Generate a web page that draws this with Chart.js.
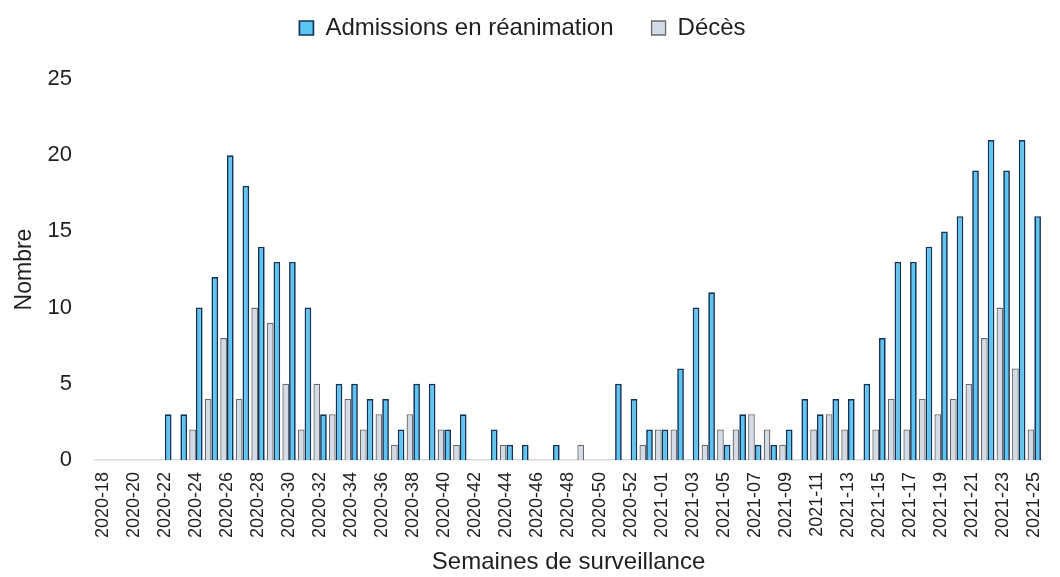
<!DOCTYPE html>
<html>
<head>
<meta charset="utf-8">
<script src="https://cdn.jsdelivr.net/npm/chart.js@4.4.1/dist/chart.umd.min.js"></script>
<style>
    html, body { margin: 0; padding: 0; background: #fff; }
    #wrap { width: 1060px; height: 577px; }
</style>
</head>
<body>
<div id="wrap"><canvas id="chart"></canvas></div>
<script>
// semaines 2020-18 .. 2020-53 puis 2021-01 .. 2021-25
const weeks = [
    '2020-18','2020-19','2020-20','2020-21','2020-22','2020-23','2020-24','2020-25','2020-26','2020-27',
    '2020-28','2020-29','2020-30','2020-31','2020-32','2020-33','2020-34','2020-35','2020-36','2020-37',
    '2020-38','2020-39','2020-40','2020-41','2020-42','2020-43','2020-44','2020-45','2020-46','2020-47',
    '2020-48','2020-49','2020-50','2020-51','2020-52','2020-53',
    '2021-01','2021-02','2021-03','2021-04','2021-05','2021-06','2021-07','2021-08','2021-09','2021-10',
    '2021-11','2021-12','2021-13','2021-14','2021-15','2021-16','2021-17','2021-18','2021-19','2021-20',
    '2021-21','2021-22','2021-23','2021-24','2021-25'
];

const admissions = [
    0, 0, 0, 0, 3, 3, 10, 12, 20, 18,
    14, 13, 13, 10, 3, 5, 5, 4, 4, 2,
    5, 5, 2, 3, 0, 2, 1, 1, 0, 1,
    0, 0, 0, 5, 4, 2,
    2, 6, 10, 11, 1, 3, 1, 1, 2, 4,
    3, 4, 4, 5, 8, 13, 13, 14, 15, 16,
    19, 21, 19, 21, 16
];

const deces = [
    0, 0, 0, 0, 0, 0, 2, 4, 8, 4,
    10, 9, 5, 2, 5, 3, 4, 2, 3, 1,
    3, 0, 2, 1, 0, 0, 1, 0, 0, 0,
    0, 1, 0, 0, 0, 1,
    2, 2, 0, 1, 2, 2, 3, 2, 1, 0,
    2, 3, 2, 0, 2, 4, 2, 4, 3, 4,
    5, 8, 10, 6, 2
];

const yTicks = [0, 5, 10, 15, 20, 25];

const FONT = "'Liberation Sans', Arial, sans-serif";
const TXT = '#1f1f1f';

// les zéros ne sont pas dessinés dans l'original
const noZero = arr => arr.map(v => v === 0 ? null : v);

// espace sous la légende
const legendGap = {
    id: 'legendGap',
    beforeInit(chart) {
        const fit = chart.legend.fit;
        chart.legend.fit = function() { fit.call(this); this.height += 29; };
    }
};

new Chart(document.getElementById('chart'), {
    type: 'bar',
    data: {
        labels: weeks,
        datasets: [
            { label: 'Décès', data: noZero(deces), backgroundColor: '#d3dbe6', borderColor: '#6a6a6a', borderWidth: 1.3, borderSkipped: 'bottom', categoryPercentage: 0.86, barPercentage: 1.0 },
            { label: 'Admissions en réanimation', data: noZero(admissions), backgroundColor: '#5cc6f2', borderColor: '#13325a', borderWidth: 1.7, borderSkipped: 'bottom', categoryPercentage: 0.86, barPercentage: 1.0 }
        ]
    },
    plugins: [legendGap],
    options: {
        responsive: true,
        maintainAspectRatio: false,
        animation: false,
        layout: { padding: { top: -22, right: 15, left: 0, bottom: 0 } },
        plugins: {
            tooltip: { enabled: false },
            legend: {
                position: 'top',
                reverse: true,
                labels: {
                    font: { family: FONT, size: 24 },
                    color: TXT,
                    boxWidth: 14, boxHeight: 14,
                    padding: 38
                }
            }
        },
        scales: {
            x: {
                grid: { display: false },
                border: { display: true, color: '#d9d9d9', width: 1.5 },
                ticks: {
                    autoSkip: false, maxRotation: 90, minRotation: 90,
                    font: { family: FONT, size: 18 }, color: TXT, padding: 4,
                    callback: (v, i) => i % 2 === 0 ? weeks[i] : ''
                },
                title: { display: true, text: 'Semaines de surveillance', font: { family: FONT, size: 24 }, color: TXT, padding: { top: 6, bottom: 0 } },
                afterFit: s => { s.height = 117; }
            },
            y: {
                min: 0, max: 25,
                grid: { display: false },
                border: { display: false },
                afterBuildTicks: s => { s.ticks = yTicks.map(v => ({ value: v })); },
                ticks: { font: { family: FONT, size: 22 }, color: TXT, padding: 15 },
                title: { display: true, text: 'Nombre', font: { family: FONT, size: 23 }, color: TXT, padding: { top: 11, bottom: 0 } },
                afterFit: s => { s.width = 95; }
            }
        }
    }
});
</script>
</body>
</html>
